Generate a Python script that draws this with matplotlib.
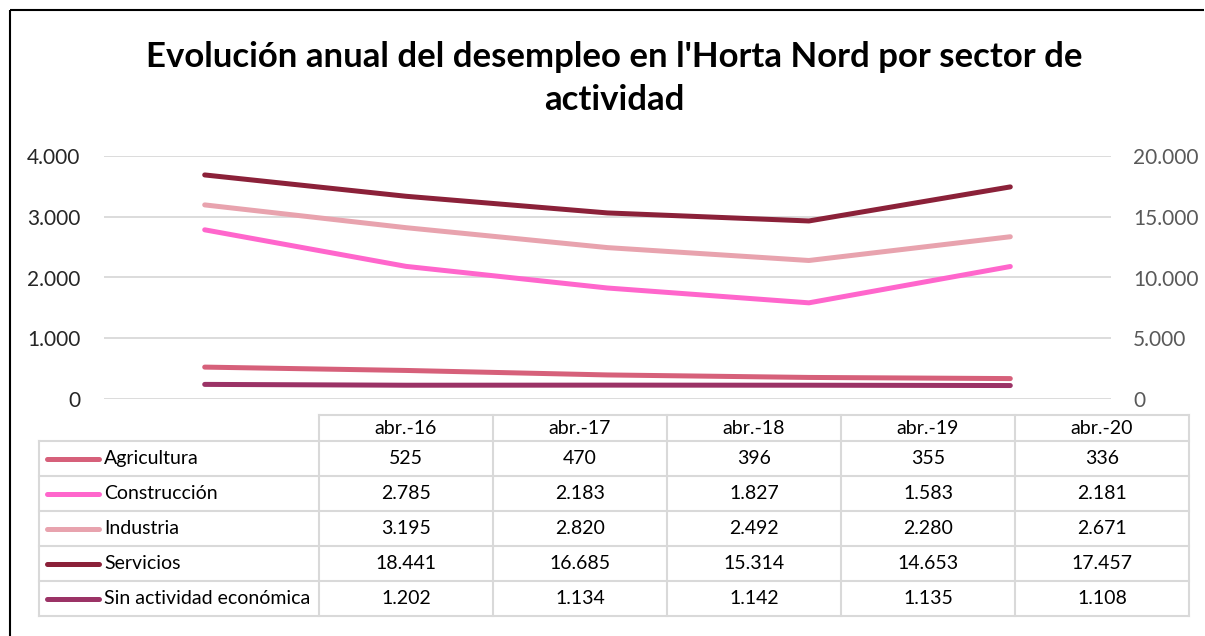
import matplotlib.pyplot as plt
from matplotlib.lines import Line2D

# data
periodos = ["abr.-16", "abr.-17", "abr.-18", "abr.-19", "abr.-20"]
agricultura = [525, 470, 396, 355, 336]
construccion = [2785, 2183, 1827, 1583, 2181]
industria = [3195, 2820, 2492, 2280, 2671]
servicios = [18441, 16685, 15314, 14653, 17457]
sin_actividad = [1202, 1134, 1142, 1135, 1108]

W, H = 1205, 636
plt.rcParams['font.family'] = ['Lato', 'DejaVu Sans']

fig = plt.figure(figsize=(W / 100, H / 100), dpi=100)


def fx(px):
    return px / W


def fy(py):
    return 1 - py / H


series = [
    ("Agricultura", agricultura, "#D6607A", False),
    ("Construcción", construccion, "#FF66CC", False),
    ("Industria", industria, "#E8A3AE", False),
    ("Servicios", servicios, "#8B2139", True),
    ("Sin actividad económica", sin_actividad, "#9B3366", True),
]

ax = fig.add_axes([fx(104), fy(399), fx(1111) - fx(104), fy(156) - fy(399)])
ax2 = ax.twinx()
x = list(range(len(periodos)))

for name, vals, col, sec in series:
    target = ax2 if sec else ax
    target.plot(x, vals, color=col, lw=3.6, solid_capstyle="round", zorder=3)

ax.set_xlim(-0.5, len(periodos) - 0.5)
ax.set_ylim(0, 4000)
ax2.set_ylim(0, 20000)
ax.set_yticks([0, 1000, 2000, 3000, 4000])
ax2.set_yticks([0, 5000, 10000, 15000, 20000])
fmt = lambda v: f"{int(v):,}".replace(",", ".")
ax.set_yticklabels([fmt(v) for v in ax.get_yticks()], fontsize=15, color="#262626")
ax2.set_yticklabels([fmt(v) for v in ax2.get_yticks()], fontsize=15, color="#595959")
ax.grid(axis="y", color="#D9D9D9", lw=1.3)
ax.set_axisbelow(True)
ax.set_xticks([])
for a in (ax, ax2):
    for s in a.spines.values():
        s.set_visible(False)
    a.tick_params(length=0)
ax.tick_params(axis="y", pad=17)
ax2.tick_params(axis="y", pad=16)

# title
fig.text(fx(614), fy(57), "Evolución anual del desempleo en l'Horta Nord por sector de",
         ha="center", va="center", fontsize=25, fontweight="bold", color="#000000")
fig.text(fx(614), fy(100), "actividad", ha="center", va="center",
         fontsize=25, fontweight="bold", color="#000000")

# data table
col_edges = [319, 493, 667, 841, 1015, 1189]
row_edges = [441, 476, 511, 546, 581, 616]
head_top = 415
gcol = "#D9D9D9"


def hline(x0, x1, y):
    fig.add_artist(Line2D([fx(x0), fx(x1)], [fy(y), fy(y)], color=gcol, lw=1.5))


def vline(x, y0, y1):
    fig.add_artist(Line2D([fx(x), fx(x)], [fy(y0), fy(y1)], color=gcol, lw=1.5))


hline(col_edges[0], col_edges[-1], head_top)
for y in row_edges:
    hline(39, col_edges[-1], y)
vline(39, row_edges[0], row_edges[-1])
for c in col_edges:
    vline(c, head_top, row_edges[-1])

for j, p in enumerate(periodos):
    cx = (col_edges[j] + col_edges[j + 1]) / 2
    fig.text(fx(cx), fy((head_top + row_edges[0]) / 2), p, ha="center", va="center",
             fontsize=14, color="#000000")

for i, (name, vals, col, sec) in enumerate(series):
    cy = (row_edges[i] + row_edges[i + 1]) / 2
    fig.add_artist(Line2D([fx(47), fx(99)], [fy(cy), fy(cy)], color=col, lw=3.6,
                          solid_capstyle="round"))
    fig.text(fx(104), fy(cy), name, ha="left", va="center", fontsize=14, color="#000000")
    for j, v in enumerate(vals):
        cx = (col_edges[j] + col_edges[j + 1]) / 2
        fig.text(fx(cx), fy(cy), fmt(v), ha="center", va="center",
                 fontsize=14, color="#000000")

# outer frame, only top and left edges are inside the picture
fig.add_artist(Line2D([fx(10), fx(1204)], [fy(10), fy(10)], color="#000000", lw=1.5,
                      solid_capstyle="butt"))
fig.add_artist(Line2D([fx(10), fx(10)], [fy(636), fy(10)], color="#000000", lw=1.5,
                      solid_capstyle="butt"))

fig.savefig("out.png", dpi=100)
